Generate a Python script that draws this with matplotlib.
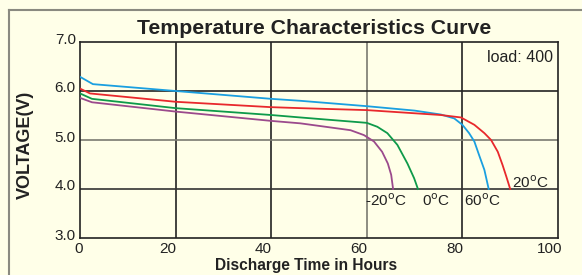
import matplotlib
matplotlib.use("Agg")
import matplotlib.pyplot as plt
from matplotlib.lines import Line2D
from matplotlib.transforms import ScaledTranslation

plt.rcParams['font.family'] = ['Liberation Sans', 'DejaVu Sans']

# Data
h_60 = [0, 2.7, 20, 40, 46.1, 60, 70, 75.5, 78.3, 80, 81.4, 82.5, 83.5, 84.6, 85.5]
v_60 = [6.29, 6.14, 6.0, 5.84, 5.80, 5.69, 5.60, 5.52, 5.44, 5.31, 5.14, 4.97, 4.69, 4.39, 4.0]

h_20 = [0, 2.1, 20, 40, 46.1, 60, 75.5, 79.7, 82.5, 84.6, 86.0, 87.4, 88.4, 89.2, 90.0]
v_20 = [6.05, 5.95, 5.78, 5.67, 5.65, 5.61, 5.51, 5.46, 5.31, 5.14, 5.0, 4.76, 4.49, 4.25, 4.0]

h_0 = [0, 2.5, 20, 40, 46.1, 60, 62.2, 64.3, 66.4, 68.5, 69.9, 70.7]
v_0 = [5.95, 5.84, 5.65, 5.51, 5.46, 5.35, 5.27, 5.14, 4.90, 4.52, 4.22, 4.0]

h_m20 = [0, 2.5, 20, 40, 46.1, 56.6, 59.4, 61.5, 63.2, 64.4, 65.1, 65.5]
v_m20 = [5.86, 5.77, 5.58, 5.39, 5.34, 5.20, 5.10, 4.97, 4.76, 4.52, 4.29, 4.0]

x_ticks = [0, 20, 40, 60, 80, 100]
y_ticks = [3.0, 4.0, 5.0, 6.0, 7.0]

W, H = 582, 275
bg = '#FFFFE8'
fig = plt.figure(figsize=(W/100, H/100), dpi=100, facecolor=bg)
ax = fig.add_axes([80/W, 37/H, 478/W, 196/H], facecolor=bg)

ax.set_xlim(0, 100)
ax.set_ylim(3.0, 7.0)

# grid lines
grid_cols_x = {20: '#222222', 40: '#222222', 60: '#7a7a70', 80: '#222222'}
for xv, c in grid_cols_x.items():
    ax.axvline(xv, color=c, lw=1.2, zorder=1)
grid_cols_y = {4.0: '#333333', 5.0: '#7a7a70', 6.0: '#222222'}
for yv, c in grid_cols_y.items():
    ax.axhline(yv, color=c, lw=1.2, zorder=1)

ax.plot(h_m20, v_m20, color='#9B4A8C', lw=1.3, zorder=3)
ax.plot(h_0, v_0, color='#0E9A4A', lw=1.3, zorder=3)
ax.plot(h_20, v_20, color='#E8282C', lw=1.3, zorder=4)
ax.plot(h_60, v_60, color='#1A9FE0', lw=1.3, zorder=3)

for s in ax.spines.values():
    s.set_color('#222222')
    s.set_linewidth(1.2)

ax.set_xticks(x_ticks)
ax.set_xticklabels([str(t) for t in x_ticks])
ax.set_yticks(y_ticks)
ax.set_yticklabels([f'{t:.1f}' for t in y_ticks])
ax.tick_params(length=0, labelsize=11, colors='#222222', pad=3)
ax.tick_params(axis='x', pad=3)
for i, lab in enumerate(ax.get_xticklabels()):
    dx = -1 if i == 0 else -8
    lab.set_transform(lab.get_transform() + ScaledTranslation(dx/100, 0, fig.dpi_scale_trans))
for lab in ax.get_yticklabels():
    lab.set_transform(lab.get_transform() + ScaledTranslation(0, 4/100, fig.dpi_scale_trans))

fig.text(306/W, 1 - 270/H, 'Discharge Time in Hours', fontsize=11.2, fontweight='bold',
         color='#222222', ha='center', va='baseline')
fig.text(25.5/W, 1 - 145/H, 'VOLTAGE(V)', fontsize=13, fontweight='bold',
         color='#222222', ha='center', va='center', rotation=90)

fig.text(314.5/W, 1 - 34.5/H, 'Temperature Characteristics Curve', fontsize=15.3,
         fontweight='bold', color='#222222', ha='center', va='baseline')

fig.text(553/W, 1 - 62.5/H, 'load: 400', fontsize=11.5,
         ha='right', va='baseline', color='#222222')

lab_kw = dict(fontsize=11, color='#222222', va='center', ha='left')
ax.text(59.7, 3.76, r'-20$^\mathrm{o}$C', **lab_kw)
ax.text(71.5, 3.76, r'0$^\mathrm{o}$C', **lab_kw)
ax.text(80.3, 3.76, r'60$^\mathrm{o}$C', **lab_kw)
ax.text(90.3, 4.12, r'20$^\mathrm{o}$C', **lab_kw)

# outer frame (top and left edges visible)
fig.add_artist(Line2D([9/W, 1.0], [1 - 10/H, 1 - 10/H], color='#8a8a80', lw=1.5,
                      transform=fig.transFigure))
fig.add_artist(Line2D([9/W, 9/W], [0.0, 1 - 10/H], color='#8a8a80', lw=1.5,
                      transform=fig.transFigure))

fig.savefig('out.png', dpi=100, facecolor=bg)
